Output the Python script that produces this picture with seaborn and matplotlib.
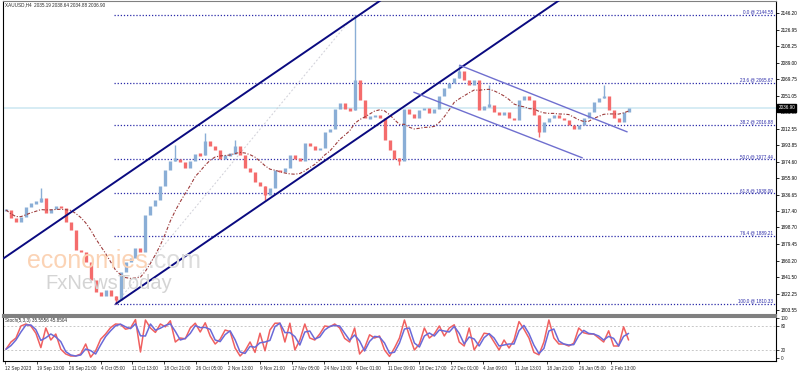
import matplotlib
matplotlib.use("Agg")
import matplotlib.pyplot as plt
import matplotlib.transforms as mtransforms
import numpy as np
import pandas as pd
import seaborn as sns

# XAUUSD H4 closes, one value per group of 5 H4 bars
closes = [1919, 1910, 1905, 1911, 1922, 1927, 1928, 1933, 1916, 1920,
          1924, 1921, 1905, 1896, 1873, 1870, 1859, 1838, 1824, 1819,
          1826, 1819, 1815, 1847, 1859, 1863, 1875, 1870, 1913, 1924,
          1930, 1947, 1965, 1976, 1978, 1974, 1967, 1976, 1984, 1982,
          1999, 1993, 1988, 1978, 1982, 1984, 1993, 1982, 1967, 1963,
          1951, 1947, 1936, 1944, 1965, 1963, 1967, 1982, 1978, 1976,
          1996, 1993, 1988, 1991, 2009, 2013, 2036, 2042, 2036, 2034,
          2069, 2046, 2025, 2026, 2029, 2025, 2000, 1988, 1978, 1976,
          2036, 2030, 2025, 2034, 2037, 2031, 2036, 2051, 2060, 2066,
          2071, 2080, 2069, 2063, 2069, 2034, 2039, 2040, 2032, 2029,
          2032, 2025, 2023, 2046, 2051, 2046, 2029, 2009, 2021, 2025,
          2029, 2025, 2023, 2017, 2013, 2017, 2025, 2032, 2044, 2048,
          2051, 2034, 2025, 2021, 2032, 2036.90]
spike_highs = {7: 1944, 34: 1994, 40: 2008, 46: 2000, 70: 2144.55,
               91: 2086, 97: 2063, 120: 2063}
spike_lows = {22: 1810.33, 52: 1930, 79: 1971, 107: 2003}

stoch_main = [22, 40, 50, 80, 85, 80, 62, 26, 75, 45,
              60, 22, 10, 5, 5, 10, 35, 2, 18, 47,
              60, 76, 85, 84, 72, 75, 96, 15, 95, 75,
              64, 85, 78, 93, 40, 50, 48, 75, 87, 65,
              88, 55, 35, 47, 70, 66, 25, 5, 18, 40,
              14, 62, 18, 70, 87, 87, 40, 87, 20, 45,
              85, 50, 45, 60, 80, 78, 85, 75, 49, 40,
              75, 10, 25, 58, 50, 55, 20, 4, 25, 50,
              95, 55, 20, 35, 75, 50, 60, 80, 55, 75,
              83, 40, 30, 75, 20, 40, 62, 60, 40, 20,
              45, 25, 45, 91, 72, 50, 14, 8, 40, 95,
              50, 35, 35, 30, 37, 75, 63, 60, 60, 50,
              40, 68, 30, 30, 78, 45]

fib_ratios = [0.0, 23.6, 38.2, 50.0, 61.8, 76.4, 100.0]
fib_high = 2144.55
fib_low = 1810.33

# trendlines: (sample index, price) anchors
asc_upper = [(-0.6, 1862.6), (80, 2180.0)]
asc_lower = [(22, 1810.33), (110, 2157.0)]
desc_upper = [(91, 2086.4), (124.8, 2009.0)]
desc_lower = [(81.8, 2055.2), (115.8, 1979.0)]

price_ticks = [1803.55, 1822.25, 1841.50, 1860.20, 1879.45, 1898.70, 1917.40,
               1936.65, 1955.90, 1974.60, 1993.85, 2012.55, 2031.80, 2051.05,
               2069.75, 2089.00, 2108.25, 2126.95, 2146.20]
date_labels = ["12 Sep 2023", "19 Sep 13:00", "26 Sep 21:00", "4 Oct 05:00",
               "11 Oct 13:00", "18 Oct 21:00", "26 Oct 05:00", "2 Nov 13:00",
               "9 Nov 21:00", "17 Nov 05:00", "24 Nov 13:00", "4 Dec 01:00",
               "11 Dec 09:00", "18 Dec 17:00", "27 Dec 01:00", "4 Jan 09:00",
               "11 Jan 13:00", "18 Jan 21:00", "26 Jan 05:00", "2 Feb 13:00"]

bars_per_sample = 5
bars_per_label = 32

sns.set_theme(style="white")
plt.rcParams["font.family"] = ["Liberation Sans", "DejaVu Sans"]

UP = "#8aaed6"
DOWN = "#f46c6c"
NAVY = "#0a0a80"
FIBC = "#2a2aa8"
FS = 3.3

df = pd.DataFrame({"idx": np.arange(len(closes)), "close": closes})
df["open"] = df["close"].shift(1).fillna(df["close"])
df["ma"] = df["close"].rolling(11, min_periods=1).mean()

fig = plt.figure(figsize=(7.98, 3.72), dpi=100)
fig.patch.set_facecolor("white")
ax1 = fig.add_axes([3 / 798, 1 - 315 / 372, 773 / 798, 314 / 372])
ax2 = fig.add_axes([3 / 798, 1 - 361 / 372, 773 / 798, 44 / 372])

xmax = (776 - 3) / bars_per_sample
for ax in (ax1, ax2):
    ax.set_xlim(-0.6, xmax)
    ax.set_facecolor("white")

ax1.set_ylim(1797.6, 2160.4)
ax2.set_ylim(-7.5, 102.5)

# current price line
last = closes[-1]
ax1.axhline(last, color="#cfe9f2", lw=1.2, zorder=1)

# fibonacci levels
lo_idx = int(np.argmin(closes))
for r in fib_ratios:
    lvl = fib_high - (fib_high - fib_low) * r / 100
    ax1.hlines(lvl, lo_idx - 0.3, xmax, color=FIBC, lw=0.9,
               linestyles=(0, (1, 1.5)), zorder=2)
    ax1.text(xmax - 0.6, lvl + 0.6, f"{r:.1f} @ {lvl:.2f}", color=FIBC,
             fontsize=FS, ha="right", va="bottom", zorder=5)

# fib base line (low to high)
hi_idx = int(np.argmax([spike_highs.get(i, c) for i, c in enumerate(closes)]))
ax1.plot([lo_idx, hi_idx], [fib_low, fib_high], color="#d0d0d8", lw=0.7,
         ls=(0, (2, 2)), zorder=1)

# watermark (behind the candles)
fig.text(27 / 798, 1 - 268 / 372, "economies", color="#fbd3b5", fontsize=18,
         va="baseline", ha="left", zorder=0)
fig.text(148 / 798, 1 - 268 / 372, ".com", color="#dcdcdc", fontsize=18,
         va="baseline", ha="left", zorder=0)
fig.text(45 / 798, 1 - 289 / 372, "FxNewsToday", color="#d4d4d4", fontsize=14.5,
         va="baseline", ha="left", zorder=0)

# candles
for i, row in df.iterrows():
    o, c = row["open"], row["close"]
    col = UP if c >= o else DOWN
    lo, hi = min(o, c), max(o, c)
    if hi - lo < 3:
        mid = (hi + lo) / 2
        hi, lo = mid + 1.5, mid - 1.5
    ax1.vlines(i, lo, hi, color=col, lw=2.4, zorder=3)
    top = spike_highs.get(i, hi)
    bot = spike_lows.get(i, lo)
    if top > hi or bot < lo:
        ax1.vlines(i, bot, top, color=col, lw=1.0, zorder=3)

# moving average
sns.lineplot(data=df, x="idx", y="ma", ax=ax1, color="#9c3b3b", lw=0.8,
             linestyle=(0, (3, 1.5, 1, 1.5)), zorder=4)


def ray(ax, pts, color, lw, extend=True):
    (x0, y0), (x1, y1) = pts
    slope = (y1 - y0) / (x1 - x0)
    xe = xmax if extend else x1
    ax.plot([x0, xe], [y0, y0 + slope * (xe - x0)], color=color, lw=lw,
            zorder=4, solid_capstyle="butt")


ray(ax1, asc_upper, NAVY, 1.4)
ray(ax1, asc_lower, NAVY, 1.4)
ray(ax1, desc_upper, "#6f6fcf", 1.0, extend=False)
ray(ax1, desc_lower, "#6f6fcf", 1.0, extend=False)

# price axis on the right
ax1.yaxis.tick_right()
ax1.set_yticks(price_ticks)
ax1.set_yticklabels([f"{p:.2f}" for p in price_ticks])
ax1.tick_params(axis="y", right=True, length=2, width=0.6, pad=1.2,
                labelsize=FS, colors="black")
ax1.set_xticks([])
ax1.set_xlabel("")
ax1.set_ylabel("")
ax1.text(1.003, last, f"{last:.2f}",
         transform=mtransforms.blended_transform_factory(ax1.transAxes, ax1.transData),
         fontsize=FS, color="white", va="center", ha="left", zorder=10,
         bbox=dict(boxstyle="square,pad=0.25", fc="black", ec="black"), clip_on=False)

ax1.text(0.003, 0.995, "XAUUSD,H4  2035.19 2038.64 2034.88 2036.90",
         transform=ax1.transAxes, fontsize=FS, va="top", ha="left")

# stochastic
sdf = pd.DataFrame({"idx": np.arange(len(stoch_main)), "main": stoch_main})
sdf["signal"] = sdf["main"].rolling(2, min_periods=1).mean()
for lvl in (80, 20):
    ax2.axhline(lvl, color="#c8c8c8", lw=0.7, ls=(0, (2, 2)))
sns.lineplot(data=sdf, x="idx", y="main", ax=ax2, color="#f06060", lw=1.1)
sns.lineplot(data=sdf, x="idx", y="signal", ax=ax2, color="#6a6ad8", lw=1.1)
ax2.text(0.003, 0.97, "Stoch(5,3,3) 35.5556 45.8504", transform=ax2.transAxes,
         fontsize=FS, va="top", ha="left")
ax2.yaxis.tick_right()
ax2.set_yticks([0, 20, 80, 100])
ax2.set_yticklabels(["0", "20", "80", "100"])
ax2.tick_params(axis="y", right=True, length=2, width=0.6, pad=1.2,
                labelsize=FS)
ticks = np.arange(len(date_labels)) * bars_per_label / bars_per_sample - 0.2
ax2.set_xticks(ticks)
ax2.set_xticklabels(date_labels)
ax2.tick_params(axis="x", bottom=True, length=2.5, width=0.6, pad=1.0,
                labelsize=FS)
plt.setp(ax2.get_xticklabels(), ha="left")
ax2.set_xlabel("")
ax2.set_ylabel("")

for ax in (ax1, ax2):
    ax.patch.set_alpha(0)
    for s in ax.spines.values():
        s.set_color("black")
        s.set_linewidth(0.8)
ax1.spines["top"].set_color("#808080")
ax1.spines["bottom"].set_color("#808080")
ax1.spines["bottom"].set_linewidth(1.5)
ax2.spines["top"].set_color("#808080")
ax2.spines["top"].set_linewidth(1.5)

fig.savefig("out.png", dpi=100, facecolor="white")
